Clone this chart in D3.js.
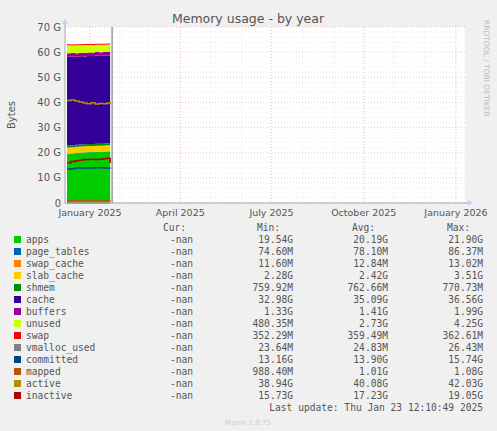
<!DOCTYPE html><html><head><meta charset="utf-8"><script src="https://cdn.jsdelivr.net/npm/d3@7"></script>
<style>body{margin:0;background:#f0f0f0}text{font-family:"DejaVu Sans Mono",monospace}</style></head><body><svg id="c" width="497" height="431"></svg>
<script>
const dates=["2024-12-09","2024-12-13","2024-12-17","2024-12-21","2024-12-25","2024-12-29","2025-01-02","2025-01-06","2025-01-10","2025-01-14","2025-01-18","2025-01-21"];
const apps=[19.6,19.7,19.9,20.0,20.1,20.2,20.2,20.3,20.3,20.4,20.5,21.0];
const page_tables=[0.08,0.08,0.08,0.08,0.08,0.08,0.08,0.08,0.08,0.08,0.08,0.08];
const swap_cache=[0.013,0.013,0.013,0.013,0.013,0.013,0.013,0.013,0.013,0.013,0.013,0.013];
const slab_cache=[2.4,2.4,2.4,2.4,2.4,2.4,2.4,2.4,2.4,2.4,2.4,3.4];
const shmem=[0.76,0.76,0.76,0.76,0.76,0.76,0.76,0.76,0.76,0.76,0.76,0.77];
const cache=[35.3,35.2,35.0,35.1,34.9,35.0,35.0,35.1,35.0,35.0,34.9,33.6];
const buffers=[1.4,1.5,1.4,1.4,1.4,1.4,1.4,1.4,1.4,1.4,1.4,1.9];
const unused=[3.2,3.0,3.2,3.0,3.2,3.0,3.0,2.9,3.0,2.9,3.0,2.0];
const swap=[0.36,0.36,0.36,0.36,0.36,0.36,0.36,0.36,0.36,0.36,0.36,0.36];
const vmalloc_used=[0.024,0.024,0.024,0.024,0.024,0.024,0.024,0.024,0.024,0.024,0.024,0.024];
const committed=[13.5,13.6,13.8,13.9,13.9,14.0,13.9,14.0,14.0,13.9,13.8,13.7];
const mapped=[1.0,1.0,1.0,1.0,1.0,1.0,1.0,1.0,1.0,1.0,1.0,1.05];
const active=[40.8,41.0,40.6,40.2,39.8,39.5,39.9,39.4,39.6,39.5,39.8,39.3];
const inactive=[16.0,16.5,16.8,17.0,17.3,17.3,17.4,17.3,17.4,17.6,17.8,15.9];
const yTicks=["0","10 G","20 G","30 G","40 G","50 G","60 G","70 G"];
const xTickDates=["2025-01-01","2025-04-01","2025-07-01","2025-10-01","2026-01-01"];
const xTickLabels=["January 2025","April 2025","July 2025","October 2025","January 2026"];
const areaNames=["apps","page_tables","swap_cache","slab_cache","shmem","cache","buffers","unused","swap"];
const areaVals=[apps,page_tables,swap_cache,slab_cache,shmem,cache,buffers,unused,swap];
const lineNames=["vmalloc_used","committed","mapped","active","inactive"];
const lineVals=[vmalloc_used,committed,mapped,active,inactive];
const legendNames=["apps","page_tables","swap_cache","slab_cache","shmem","cache","buffers","unused","swap","vmalloc_used","committed","mapped","active","inactive"];
const colors={apps:"#00cc00",page_tables:"#0066b3",swap_cache:"#ff8000",slab_cache:"#ffcc00",shmem:"#008f00",cache:"#330099",buffers:"#990099",unused:"#ccff00",swap:"#ff0000",vmalloc_used:"#808080",committed:"#00487d",mapped:"#b35a00",active:"#b38f00",inactive:"#b30000"};
const cur=Array(14).fill("-nan");
const mins=["19.54G","74.60M","11.60M","2.28G","759.92M","32.98G","1.33G","480.35M","352.29M","23.64M","13.16G","988.40M","38.94G","15.73G"];
const avgs=["20.19G","78.10M","12.84M","2.42G","762.66M","35.09G","1.41G","2.73G","359.49M","24.83M","13.90G","1.01G","40.08G","17.23G"];
const maxs=["21.90G","86.37M","13.02M","3.51G","770.73M","36.56G","1.99G","4.25G","362.61M","26.43M","15.74G","1.08G","42.03G","19.05G"];

const svg=d3.select("#c");
const L=65,R=465,T=27,B=203;
const pd=d3.utcParse("%Y-%m-%d");
const x=d3.scaleUtc().domain([pd("2024-12-07"),pd("2026-01-10")]).range([L,R]);
const y=d3.scaleLinear().domain([0,70]).range([B,T]);
svg.append("rect").attr("x",L).attr("y",T).attr("width",R-L).attr("height",B-T).attr("fill","#fff");
const g=svg.append("g");
for(let v=0;v<=70;v+=2){g.append("line").attr("x1",L).attr("x2",R).attr("y1",y(v)).attr("y2",y(v)).attr("stroke",v%10==0?"#f2a0a0":"#ddd").attr("stroke-dasharray","1,2").attr("stroke-width",0.6);}
x.ticks(d3.utcMonth.every(1)).forEach(d=>g.append("line").attr("x1",x(d)).attr("x2",x(d)).attr("y1",T).attr("y2",B).attr("stroke","#ddd").attr("stroke-dasharray","1,2").attr("stroke-width",0.6));
xTickDates.forEach(s=>g.append("line").attr("x1",x(pd(s))).attr("x2",x(pd(s))).attr("y1",T).attr("y2",B).attr("stroke","#f2a0a0").attr("stroke-dasharray","1,2").attr("stroke-width",0.6));
const data=dates.map((d,i)=>{const o={date:pd(d)};areaNames.forEach((n,k)=>o[n]=areaVals[k][i]);return o;});
const st=d3.stack().keys(areaNames)(data);
const area=d3.area().x(d=>x(d.data.date)).y0(d=>y(d[0])).y1(d=>y(d[1])).curve(d3.curveStepAfter);
svg.append("g").selectAll("path").data(st).join("path").attr("d",area).attr("fill",d=>colors[d.key]);
const line=d3.line().x((d,i)=>x(pd(dates[i]))).y(d=>y(d)).curve(d3.curveStepAfter);
lineVals.forEach((v,k)=>svg.append("path").attr("d",line(v)).attr("fill","none").attr("stroke",colors[lineNames[k]]).attr("stroke-width",1.5));
svg.append("line").attr("x1",x(pd("2025-01-23"))).attr("x2",x(pd("2025-01-23"))).attr("y1",T).attr("y2",B).attr("stroke","#999").attr("stroke-width",1.5);
svg.append("line").attr("x1",L).attr("x2",R+5).attr("y1",B).attr("y2",B).attr("stroke","#aaa");
svg.append("line").attr("x1",L).attr("x2",L).attr("y1",T-7).attr("y2",B).attr("stroke","#aaa");
svg.append("path").attr("d",`M${R+3},${B-3}L${R+8},${B}L${R+3},${B+3}Z`).attr("fill","#ccf");
svg.append("path").attr("d",`M${L-3},${T-3}L${L},${T-8}L${L+3},${T-3}Z`).attr("fill","#ccf");
yTicks.forEach((t,i)=>svg.append("text").attr("x",L-4).attr("y",y(i*10)+3.5).attr("text-anchor","end").attr("font-size",10).attr("fill","#555").style("font-family","DejaVu Sans").text(t));
xTickDates.forEach((s,i)=>svg.append("text").attr("x",x(pd(s))).attr("y",216).attr("text-anchor","middle").attr("font-size",9.5).attr("fill","#555").style("font-family","DejaVu Sans").text(xTickLabels[i]));
svg.append("text").attr("x",248).attr("y",23).attr("text-anchor","middle").attr("font-size",12.5).attr("fill","#555").style("font-family","DejaVu Sans").text("Memory usage - by year");
svg.append("text").attr("transform","translate(15,115) rotate(-90)").attr("text-anchor","middle").attr("font-size",10).attr("fill","#555").style("font-family","DejaVu Sans").text("Bytes");
svg.append("text").attr("transform","translate(484,20) rotate(90)").attr("font-size",7.5).attr("fill","#bbb").style("font-family","DejaVu Sans").text("RRDTOOL / TOBI OETIKER");
const fs=9.6;
[["Cur:",186],["Min:",280],["Avg:",375],["Max:",470]].forEach(([t,xx])=>svg.append("text").attr("x",xx).attr("y",231).attr("text-anchor","end").attr("font-size",fs).attr("fill","#555").text(t));
legendNames.forEach((n,i)=>{const yy=243+i*12;
svg.append("rect").attr("x",14).attr("y",yy-7).attr("width",7).attr("height",7).attr("fill",colors[n]);
svg.append("text").attr("x",26).attr("y",yy).attr("font-size",fs).attr("fill","#555").text(n);
[[cur[i],193],[mins[i],293],[avgs[i],388],[maxs[i],483]].forEach(([t,xx])=>svg.append("text").attr("x",xx).attr("y",yy).attr("text-anchor","end").attr("font-size",fs).attr("fill","#555").text(t));});
svg.append("text").attr("x",483).attr("y",411).attr("text-anchor","end").attr("font-size",fs).attr("fill","#555").text("Last update: Thu Jan 23 12:10:49 2025");
svg.append("text").attr("x",248).attr("y",425).attr("text-anchor","middle").attr("font-size",7).attr("fill","#ccc").style("font-family","DejaVu Sans").text("Munin 2.0.75");
</script></body></html>
